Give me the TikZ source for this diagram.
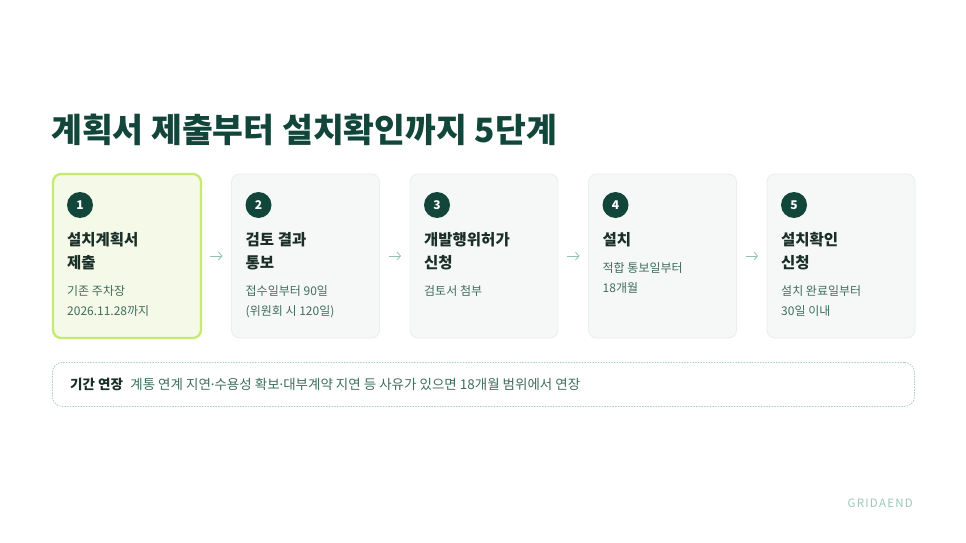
\documentclass[tikz,border=0pt]{standalone}
\usepackage{fontspec}
\setmainfont{Noto Sans CJK KR}
\newfontfamily\latinfont{Noto Sans}
\usetikzlibrary{arrows.meta,positioning}

\definecolor{deep}{HTML}{12463A}
\definecolor{ink}{HTML}{1B2F29}
\definecolor{moss}{HTML}{3F6E5E}
\definecolor{boxfill}{HTML}{F6F8F7}
\definecolor{boxline}{HTML}{E9EEEB}
\definecolor{limefill}{HTML}{F4F9E8}
\definecolor{limeline}{HTML}{C6E970}
\definecolor{arrowc}{HTML}{93C2AF}
\definecolor{dotline}{HTML}{A9CFC2}
\definecolor{faded}{HTML}{9CC8B8}

\newcommand{\mdot}{{\latinfont ·}}

\begin{document}
\begin{tikzpicture}[x=1pt,y=1pt,>={Straight Barb[length=3.5pt,width=8pt]},
                    node distance=30.5pt,inner sep=0pt]

  \tikzstyle{stepbox}=[rectangle,rounded corners=8pt,draw=boxline,fill=boxfill,outer sep=0pt,
                       line width=0.8pt,minimum width=148pt,minimum height=164pt,anchor=north west]
  \tikzstyle{current}=[draw=limeline,fill=limefill,line width=2.3pt]
  \tikzstyle{badge}=[circle,fill=deep,text=white,minimum size=26pt,
                     font=\bfseries\fontsize{12}{12}\selectfont]
  \tikzstyle{head}=[anchor=north west,align=left,text=ink,font=\bfseries\fontsize{15.5}{23.5}\selectfont]
  \tikzstyle{sub}=[align=left,text=moss,font=\fontsize{12}{20}\selectfont]
  \tikzstyle{flow}=[->,draw=arrowc,line width=0.8pt]
  \tikzstyle{note}=[rectangle,rounded corners=10pt,draw=dotline,line width=0.8pt,
                    dash pattern=on 1.5pt off 1.2pt,minimum width=862pt,minimum height=44pt,anchor=north west]

  \path[use as bounding box,fill=white] (0,0) rectangle (966,-543);

  \node[anchor=base west,text=deep,font=\bfseries\fontsize{33.5}{33.5}\selectfont] (title) at (51,-142)
       {계획서 제출부터 설치확인까지 5단계};

  \node[stepbox,current] (s1) at (53,-174) {};
  \node[stepbox] (s2) [right=of s1] {};
  \node[stepbox] (s3) [right=of s2] {};
  \node[stepbox] (s4) [right=of s3] {};
  \node[stepbox] (s5) [right=of s4] {};

  \node[badge] (n1) at ([shift={(27,-31)}]s1.north west) {1};
  \node[badge] (n2) at ([shift={(27,-31)}]s2.north west) {2};
  \node[badge] (n3) at ([shift={(27,-31)}]s3.north west) {3};
  \node[badge] (n4) at ([shift={(27,-31)}]s4.north west) {4};
  \node[badge] (n5) at ([shift={(27,-31)}]s5.north west) {5};

  \node[head] (h1) at ([shift={(14,-58)}]s1.north west) {설치계획서\\제출};
  \node[head] (h2) at ([shift={(14,-58)}]s2.north west) {검토 결과\\통보};
  \node[head] (h3) at ([shift={(14,-58)}]s3.north west) {개발행위허가\\신청};
  \node[head] (h4) at ([shift={(14,-58)}]s4.north west) {설치};
  \node[head] (h5) at ([shift={(14,-58)}]s5.north west) {설치확인\\신청};

  \node[sub,below=15pt of h1.south west,anchor=north west] (t1) {기존 주차장\\2026.11.28까지};
  \node[sub,below=15pt of h2.south west,anchor=north west] (t2) {접수일부터 90일\\(위원회 시 120일)};
  \node[sub,below=15pt of h3.south west,anchor=north west] (t3) {검토서 첨부};
  \node[sub,below=15pt of h4.south west,anchor=north west] (t4) {적합 통보일부터\\18개월};
  \node[sub,below=15pt of h5.south west,anchor=north west] (t5) {설치 완료일부터\\30일 이내};

  \draw[flow] ([xshift=9pt]s1.east) -- ([xshift=-9pt]s2.west);
  \draw[flow] ([xshift=9pt]s2.east) -- ([xshift=-9pt]s3.west);
  \draw[flow] ([xshift=9pt]s3.east) -- ([xshift=-9pt]s4.west);
  \draw[flow] ([xshift=9pt]s4.east) -- ([xshift=-9pt]s5.west);

  \node[note] (ext) at (52,-362) {};
  \node[anchor=west,text=ink,font=\bfseries\fontsize{13.5}{13.5}\selectfont] (el) at ([xshift=18pt]ext.west) {기간 연장};
  \node[right=7pt of el,text=moss,font=\fontsize{13.5}{13.5}\selectfont] (et)
       {계통 연계 지연\mdot 수용성 확보\mdot 대부계약 지연 등 사유가 있으면 18개월 범위에서 연장};

  \node[anchor=east,text=faded,font=\fontsize{11.5}{11.5}\selectfont\addfontfeatures{LetterSpace=11}] (mark)
       at (913,-503) {GRIDAEND};

\end{tikzpicture}
\end{document}
